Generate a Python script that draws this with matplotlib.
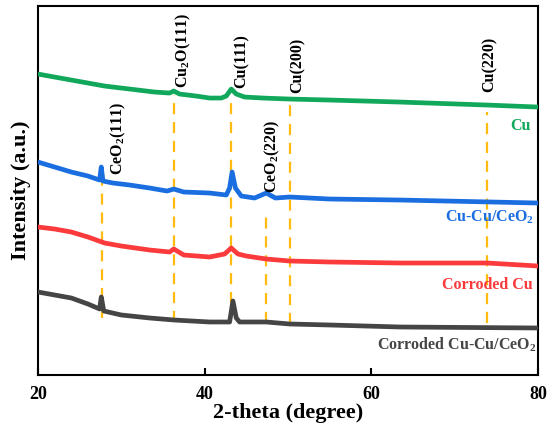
import matplotlib
matplotlib.use("Agg")
import matplotlib.pyplot as plt

plt.rcParams['font.family'] = ['Liberation Serif', 'DejaVu Serif']
plt.rcParams['font.weight'] = 'bold'
plt.rcParams['mathtext.fontset'] = 'custom'
plt.rcParams['mathtext.rm'] = 'Liberation Serif:bold'
plt.rcParams['mathtext.bf'] = 'Liberation Serif:bold'

# ---- data (2-theta in degree, intensity in a.u.) ----
cu_x = [20.0, 22.0, 24.0, 26.0, 28.0, 30.0, 32.0, 34.0, 35.8, 36.3, 37.0, 39.0, 40.6, 42.0, 42.6, 43.2,
        43.8, 44.8, 47.0, 50.2, 55.0, 63.4, 73.9, 80.0]
cu_y = [301, 298, 295, 292, 289, 287, 285, 283, 282, 284, 281, 279, 277, 277, 279, 286,
        281, 278, 277, 276, 275, 273, 270, 268]

cucu_x = [20.0, 22.0, 24.0, 26.0, 27.4, 27.6, 27.8, 29.0, 31.0, 33.4, 35.5, 36.3, 37.5, 40.6, 42.6, 43.0,
          43.3, 43.7, 44.4, 46.0, 47.4, 48.5, 50.2, 55.0, 63.4, 80.0]
cucu_y = [213, 208, 203, 199, 195, 208, 194, 192, 190, 187, 184, 186, 183, 182, 180, 187,
          203, 187, 179, 177, 182, 177, 178, 176, 175, 172]

ccu_x = [20.0, 22.0, 24.0, 26.0, 28.0, 30.0, 33.4, 35.8, 36.3, 37.5, 40.6, 42.4, 43.2, 44.0, 45.0,
         47.4, 50.2, 55.0, 63.4, 73.9, 80.0]
ccu_y = [148, 146, 143, 138, 132, 129, 125, 123, 126, 120, 118, 121, 127, 121, 119,
         116, 114, 113, 112, 112, 109]

ccucu_x = [20.0, 22.0, 24.0, 26.0, 27.4, 27.6, 27.9, 30.0, 33.4, 36.3, 40.6, 43.0, 43.4, 43.8, 44.2,
           47.4, 50.2, 55.0, 63.4, 80.0]
ccucu_y = [83, 80, 77, 71, 66, 78, 64, 60, 57, 55, 53, 53, 74, 57, 53,
           53, 51, 50, 48, 47]

peak_pos = [27.7, 36.3, 43.2, 47.4, 50.2, 73.9]
peak_ymin = [57, 53, 53, 52, 51, 52]
peak_ymax = [193, 280, 275, 162, 272, 263]
peak_labels = [r'CeO$_2$(111)', r'Cu$_2$O(111)', 'Cu(111)', r'CeO$_2$(220)', 'Cu(200)', 'Cu(220)']
label_x = [29.6, 37.4, 44.5, 48.1, 51.2, 74.2]
label_y = [200, 287, 287, 182, 282, 283]

series_names = ['Cu', r'Cu-Cu/CeO$_2$', 'Corroded Cu', r'Corroded Cu-Cu/CeO$_2$']
series_colors = ['#12a85c', '#1a6ee0', '#fb3a3c', '#454545']
name_x = [79.2, 79.5, 79.4, 79.9]
name_y = [249, 158, 90, 30]

xticks = [20, 40, 60, 80]

fig = plt.figure(figsize=(5.5, 4.33), dpi=100)
ax = fig.add_axes([0.069, 0.134, 0.909, 0.852])

for xs, ys, c in zip([cu_x, cucu_x, ccu_x, ccucu_x], [cu_y, cucu_y, ccu_y, ccucu_y], series_colors):
    ax.plot(xs, ys, color=c, lw=3.4, solid_joinstyle='round', zorder=3)

for p, y0, y1 in zip(peak_pos, peak_ymin, peak_ymax):
    ax.plot([p, p], [y0, y1], color='#ffbb10', lw=1.6, ls=(0, (5, 3.5)), zorder=2)

for lx, ly, t in zip(label_x, label_y, peak_labels):
    ax.text(lx, ly, t, rotation=90, ha='center', va='bottom', fontsize=11.5,
            fontweight='bold', color='black', zorder=4)

for nx, ny, t, c in zip(name_x, name_y, series_names, series_colors):
    ax.text(nx, ny, t, ha='right', va='center', fontsize=11.5, fontweight='bold', color=c, zorder=4)

ax.set_xlim(20, 80)
ax.set_ylim(0, 369)
ax.set_xticks(xticks)
ax.set_xticklabels([str(v) for v in xticks])
ax.set_yticks([])
ax.tick_params(axis='x', direction='in', length=5, width=1.5, labelsize=13, pad=8)
for lab in ax.get_xticklabels():
    lab.set_fontweight('bold')
for s in ax.spines.values():
    s.set_linewidth(1.5)

ax.set_xlabel('2-theta (degree)', fontsize=16, fontweight='bold', labelpad=0)
ax.set_ylabel('Intensity (a.u.)', fontsize=16, fontweight='bold', labelpad=5)

fig.savefig('out.png', dpi=100)
